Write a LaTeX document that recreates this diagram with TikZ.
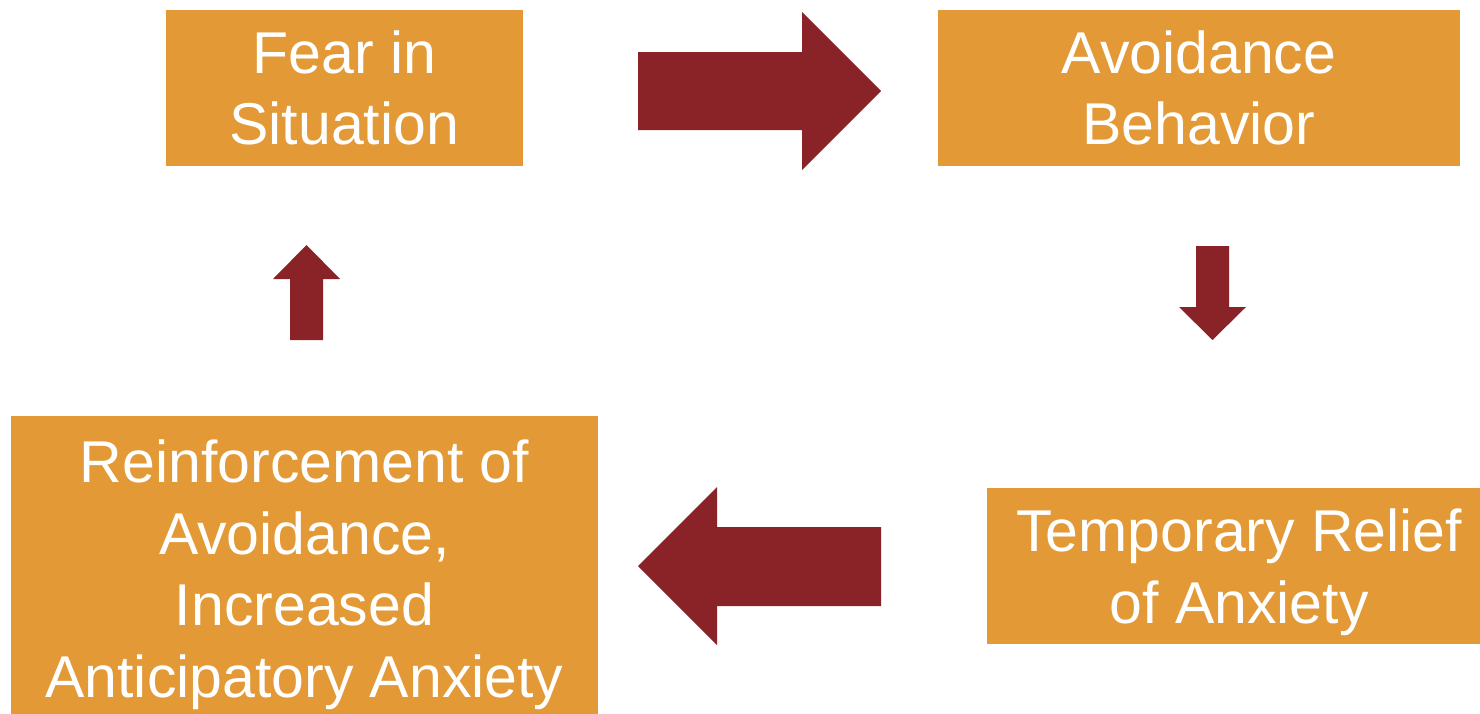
\documentclass[tikz,border=0pt]{standalone}
\usepackage{fontspec}
\setmainfont{Liberation Sans}
\definecolor{boxorange}{RGB}{226,153,54}
\definecolor{arrowred}{RGB}{137,35,40}
\tikzset{
  stagebox/.style={rectangle, fill=boxorange, text=white, inner sep=0pt,
    align=center, text depth=0pt, font=\fontsize{59}{71.5}\selectfont},
  blockarrow/.style={fill=arrowred}
}

\begin{document}
\begin{tikzpicture}[x=1pt,y=-1pt]
\useasboundingbox (0,0) rectangle (1480,713);

% Draw the four stages of the cycle
\node[stagebox, minimum width=356.7pt, minimum height=155.7pt] (fear) at (344.3,87.8) {Fear in\\Situation};
\node[stagebox, minimum width=522pt, minimum height=155.7pt] (avoid) at (1199,87.8) {Avoidance\\Behavior};
\node[stagebox, minimum width=503.7pt, minimum height=155.7pt] (relief) at (1239.2,566.2) {Temporary Relief\\of Anxiety};
\node[stagebox, minimum width=587pt, minimum height=305pt] (reinf) at (304.5,568.5) {Reinforcement of\\Avoidance,\\Increased\\Anticipatory Anxiety};

% Fear -> Avoidance
\fill[blockarrow] (638,52) -- (802,52) -- (802,12) -- (881,91) --
      (802,170) -- (802,130) -- (638,130) -- cycle;

% Avoidance -> Relief
\fill[blockarrow] (1196,246) -- (1229,246) -- (1229,307) -- (1246,307) --
      (1212.5,340) -- (1179,307) -- (1196,307) -- cycle;

% Relief -> Reinforcement
\fill[blockarrow] (881,527) -- (717,527) -- (717,487) -- (638,566) --
      (717,645) -- (717,606) -- (881,606) -- cycle;

% Reinforcement -> Fear
\fill[blockarrow] (290,340) -- (290,279) -- (273,279) -- (306.5,245) --
      (340,279) -- (323,279) -- (323,340) -- cycle;

\end{tikzpicture}
\end{document}
